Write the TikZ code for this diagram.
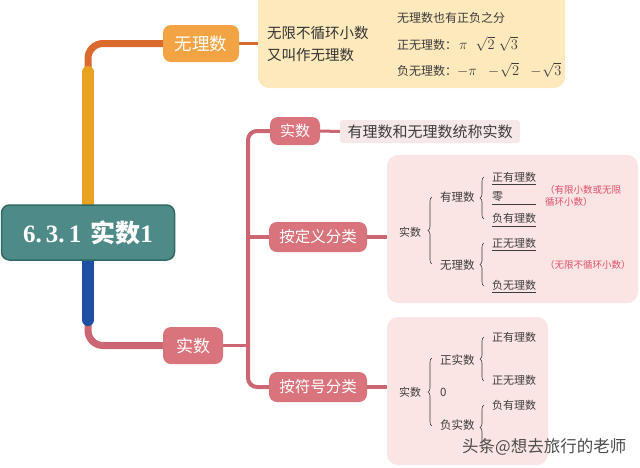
\documentclass[tikz,border=0pt]{standalone}
\usepackage{fontspec}
\setmainfont{Noto Sans CJK SC}
\newfontfamily\serifnum{Liberation Serif}
\usetikzlibrary{decorations.pathreplacing,backgrounds}
\definecolor{teal1}{HTML}{4E8B88}
\definecolor{teal2}{HTML}{2F6A66}
\definecolor{yel}{HTML}{E9A21F}
\definecolor{org}{HTML}{DB6A2E}
\definecolor{orgnode}{HTML}{F2A444}
\definecolor{blu}{HTML}{1D4FA3}
\definecolor{pk}{HTML}{CD6673}
\definecolor{pknode}{HTML}{D9737C}
\definecolor{pkbox}{HTML}{FBE4E4}
\definecolor{yelbox}{HTML}{FDE9BC}
\definecolor{txtbox}{HTML}{F6E8E8}
\definecolor{txt}{HTML}{3C3C3C}
\definecolor{redtxt}{HTML}{E0506A}
\tikzset{
  fs/.style={font=\fontsize{#1}{#1}\selectfont},
  topicbox/.style={rounded corners=8pt, text=white, inner sep=0pt},
  panel/.style={rounded corners=11pt, inner sep=0pt},
  lbl/.style={text=txt, inner sep=0pt, anchor=west, fs=11},
  redlbl/.style={text=redtxt, inner sep=0pt, anchor=west, fs=9.5},
  bracestyle/.style={decorate, decoration={brace, amplitude=4pt}, draw=txt, line width=0.6pt},
  uline/.style={draw=txt, line width=0.6pt},
}
\begin{document}
\begin{tikzpicture}[x=1pt,y=-1pt]
\useasboundingbox (0,0) rectangle (640,467);
\clip (0,0) rectangle (640,467);

% panels
\node[panel, fill=yelbox, minimum width=307pt, minimum height=100pt] (ybox) at (411.5,38) {};
\node[panel, fill=pkbox, minimum width=251pt, minimum height=148pt] (pbox1) at (512.5,229) {};
\node[panel, fill=pkbox, minimum width=161pt, minimum height=148pt] (pbox2) at (467.5,391) {};
\node[rounded corners=3pt, fill=txtbox, minimum width=180pt, minimum height=23pt, inner sep=0pt, text=txt, fs=15] (tb) at (430,131.5) {有理数和无理数统称实数};

% topic nodes
\node[topicbox, fill=teal1, draw=teal2, line width=1.5pt, minimum width=173pt, minimum height=55pt, fs=25] (root) at (88,232.5)
  {{\serifnum\bfseries 6.\,3.\,1}\hspace{9pt}{\bfseries 实数}{\serifnum\bfseries 1}};
\node[topicbox, fill=orgnode, minimum width=76pt, minimum height=37pt, fs=17.5] (wl) at (201,43.5) {无理数};
\node[topicbox, fill=pknode, minimum width=60pt, minimum height=37pt, fs=17] (rs) at (193,345.5) {实数};
\node[topicbox, fill=pknode, minimum width=50pt, minimum height=28pt, fs=15] (s1) at (295,131) {实数};
\node[topicbox, fill=pknode, minimum width=98pt, minimum height=30pt, fs=15.5] (s2) at (318,237) {按定义分类};
\node[topicbox, fill=pknode, minimum width=98pt, minimum height=30pt, fs=15.5] (s3) at (318,387) {按符号分类};

% connectors
\begin{scope}[on background layer]
\draw[org, line width=7pt, rounded corners=15pt] (root.north) |- (wl.west);
\draw[yel, line width=12pt, line cap=round] (root.north) -- (88,72);
\draw[org, line width=3pt] (wl.east) -- (wl.east -| ybox.west);
\draw[pk, line width=7pt, rounded corners=15pt] (88,312) |- (rs.west);
\draw[blu, line width=12pt, line cap=round] (root.south) -- (88,320);
\draw[pk, line width=3pt] (rs.east) -- (248,345.5);
\draw[pk, line width=4pt, rounded corners=9pt] (s1.west) -| (248,260) |- (s3.west);
\draw[pk, line width=4pt] (248,237) -- (s2.west);
\draw[pk, line width=3pt] (s1.east) -- (tb.west);
\draw[pk, line width=4pt] (s2.east) -- (s2.east -| pbox1.west);
\draw[pk, line width=4pt] (s3.east) -- (s3.east -| pbox2.west);
\end{scope}

% yellow panel content
\node[lbl, fs=14.5, text=black!80] (y1) at (267,33) {无限不循环小数};
\node[lbl, fs=14.5, text=black!80] (y2) at (267,55) {又叫作无理数};
\node[lbl, fs=12] (y3) at (397,18) {无理数也有正负之分};
\node[lbl, fs=12] (y4) at (397,44) {正无理数：\,{\fontsize{15}{15}\selectfont $\pi\;\;\sqrt{2}\;\sqrt{3}$}};
\node[lbl, fs=12] (y5) at (397,70) {负无理数：{\fontsize{15}{15}\selectfont $-\pi\;\;-\!\sqrt{2}\;\;-\!\sqrt{3}$}};

% panel 1 content
\node[lbl, fs=11] (a0) at (399,232) {实数};
\node[lbl, fs=11.5] (a1) at (440,197) {有理数};
\node[lbl, fs=11.5] (a2) at (440,265) {无理数};
\draw[bracestyle] (432,264) -- (432,197);
\node[lbl] (b1) at (492,177) {正有理数};
\node[lbl] (b2) at (492,197) {零};
\node[lbl] (b3) at (492,218) {负有理数};
\draw[bracestyle] (484,219) -- (484,177);
\draw[uline] (492,184) -- (536,184);
\draw[uline] (492,204) -- (536,204);
\draw[uline] (492,226) -- (536,226);
\node[lbl] (b4) at (492,243) {正无理数};
\node[lbl] (b5) at (492,285) {负无理数};
\draw[bracestyle] (484,286) -- (484,243);
\draw[uline] (492,250) -- (536,250);
\draw[uline] (492,292) -- (536,292);
\node[redlbl, anchor=north west, align=left, font=\fontsize{9.5}{12.5}\selectfont] (r1) at (545,185) {（有限小数或无限\\循环小数）};
\node[redlbl] (r2) at (545,265) {（无限不循环小数）};

% panel 2 content
\node[lbl, fs=11] (c0) at (399,392) {实数};
\node[lbl, fs=11.5] (c1) at (440,360) {正实数};
\node[lbl, fs=11.5] (c2) at (440,392) {0};
\node[lbl, fs=11.5] (c3) at (440,425) {负实数};
\draw[bracestyle] (432,426) -- (432,358);
\node[lbl] (d1) at (492,337) {正有理数};
\node[lbl] (d2) at (492,380) {正无理数};
\draw[bracestyle] (484,381) -- (484,337);
\node[lbl] (d3) at (492,405) {负有理数};
\draw[bracestyle] (484,450) -- (484,405);

% watermark
\node[inner sep=0pt, anchor=west, text=black!70, fs=16.5] (wm) at (462,447) {头条@想去旅行的老师};
\end{tikzpicture}
\end{document}
